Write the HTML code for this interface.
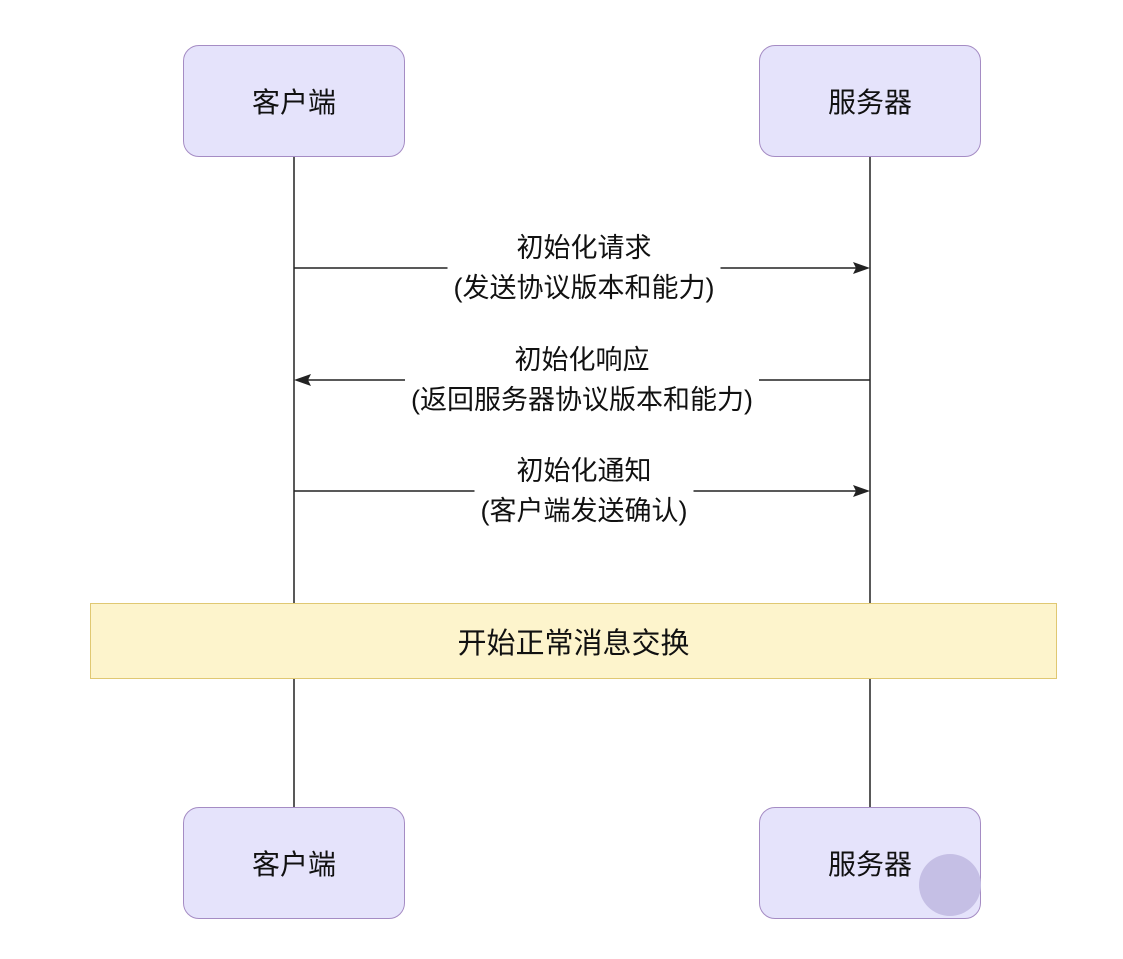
<!DOCTYPE html>
<html><head><meta charset="utf-8"><style>
body{margin:0;background:#fff;width:1123px;height:959px;overflow:hidden;position:relative;font-family:"Liberation Sans","Noto Sans CJK SC",sans-serif;color:#111}
.box{position:absolute;width:222px;height:112px;background:#e5e3fb;border:1.5px solid #a58cc4;border-radius:16px;box-sizing:border-box;display:flex;align-items:center;justify-content:center;font-size:28px}
.lbl{position:absolute;background:#fff;text-align:center;font-size:27px;line-height:40px;transform:translateX(-50%);white-space:nowrap;padding:0 6px}
</style></head><body>
<svg width="1123" height="959" style="position:absolute;left:0;top:0">
<line x1="294" y1="157" x2="294" y2="808" stroke="#222" stroke-width="1.5"/>
<line x1="870" y1="157" x2="870" y2="808" stroke="#222" stroke-width="1.5"/>
<line x1="294" y1="268" x2="860" y2="268" stroke="#222" stroke-width="1.5"/>
<polygon points="870,268 853,262 856,268 853,274" fill="#222"/>
<line x1="304" y1="380" x2="870" y2="380" stroke="#222" stroke-width="1.5"/>
<polygon points="294,380 311,374 308,380 311,386" fill="#222"/>
<line x1="294" y1="491" x2="860" y2="491" stroke="#222" stroke-width="1.5"/>
<polygon points="870,491 853,485 856,491 853,497" fill="#222"/>
</svg>
<div class="box" style="left:183px;top:45px">客户端</div>
<div class="box" style="left:759px;top:45px">服务器</div>
<div class="box" style="left:183px;top:807px">客户端</div>
<div class="box" style="left:759px;top:807px">服务器</div>
<div class="lbl" style="left:584px;top:228px">初始化请求<br>(发送协议版本和能力)</div>
<div class="lbl" style="left:582px;top:340px">初始化响应<br>(返回服务器协议版本和能力)</div>
<div class="lbl" style="left:584px;top:451px">初始化通知<br>(客户端发送确认)</div>
<div style="position:absolute;left:90px;top:603px;width:967px;height:76px;box-sizing:border-box;background:#fdf4cc;border:1.5px solid #e0c872;display:flex;align-items:center;justify-content:center;font-size:29px">开始正常消息交换</div>
<div style="position:absolute;left:919px;top:854px;width:62px;height:62px;border-radius:50%;background:#c5bfe5"></div>
</body></html>
